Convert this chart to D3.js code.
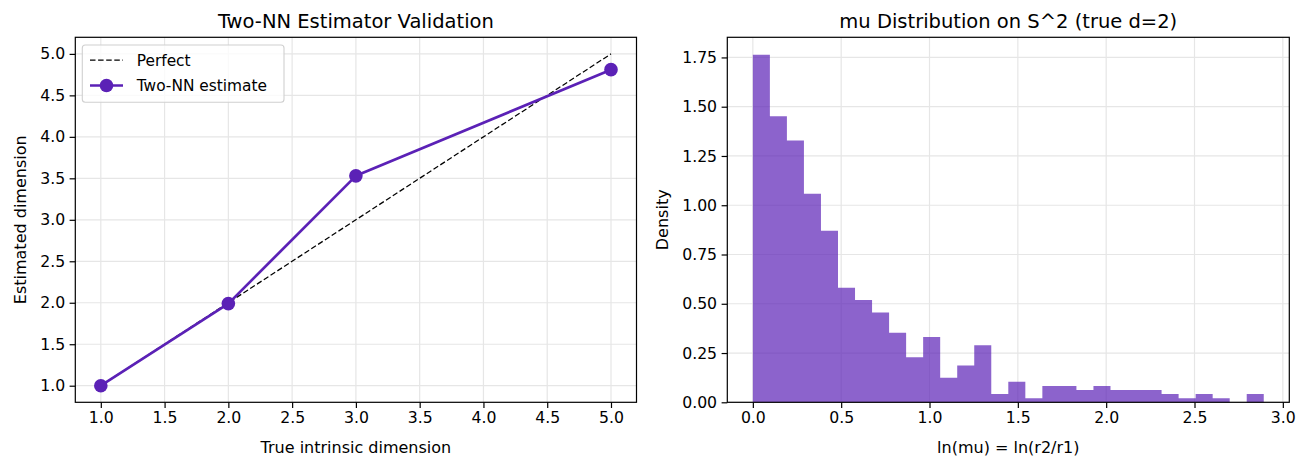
<!DOCTYPE html>
<html>
<head>
<meta charset="utf-8">
<script src="https://cdn.jsdelivr.net/npm/d3@7"></script>
<style>
    html, body { margin: 0; padding: 0; background: #ffffff; }
    #chart { width: 1306px; height: 468px; }
    text { font-family: "DejaVu Sans", sans-serif; fill: #000000; }
</style>
</head>
<body>
<div id="chart"></div>
<script>
// Two panels: Two-NN estimator check (left) and the ln(mu) histogram on S^2 (right).

// ── Left panel data ───────────────────────────────
var trueDims = [1, 2, 3, 5];
var estDims = [1.0, 1.99, 3.53, 4.81];
var perfectX = [1, 5];
var leftTicks = [1.0, 1.5, 2.0, 2.5, 3.0, 3.5, 4.0, 4.5, 5.0];

// ── Right panel data (30 bins, density) ───────────
var binLo = 0.0;
var binHi = 2.892;
var densities = [
    1.764, 1.452, 1.328, 1.058, 0.871, 0.581, 0.519, 0.456, 0.353, 0.228,
    0.332, 0.125, 0.187, 0.290, 0.042, 0.104, 0.021, 0.083, 0.083, 0.062,
    0.083, 0.062, 0.062, 0.062, 0.042, 0.021, 0.042, 0.021, 0.000, 0.042
];
var rightXTicks = [0.0, 0.5, 1.0, 1.5, 2.0, 2.5, 3.0];
var rightYTicks = [0.00, 0.25, 0.50, 0.75, 1.00, 1.25, 1.50, 1.75];

(function () {
    var W = 1306, H = 468;
    var PURPLE = '#5b21b6';
    var GRID = '#e6e6e6';
    var TICK_FS = 15.7;

    var svg = d3.select('#chart').append('svg')
        .attr('width', W).attr('height', H)
        .attr('viewBox', '0 0 ' + W + ' ' + H);

    var top = 37.3, bottom = 402.3;

    function drawGrid(g, x, y, xt, yt) {
        var x0 = x.range()[0], x1 = x.range()[1];
        var y0 = y.range()[1], y1 = y.range()[0];
        xt.forEach(function (t) {
            g.append('line')
                .attr('x1', x(t)).attr('x2', x(t)).attr('y1', y0).attr('y2', y1)
                .attr('stroke', GRID).attr('stroke-width', 1.2);
        });
        yt.forEach(function (t) {
            g.append('line')
                .attr('x1', x0).attr('x2', x1).attr('y1', y(t)).attr('y2', y(t))
                .attr('stroke', GRID).attr('stroke-width', 1.2);
        });
    }

    function drawAxes(g, x, y, xt, yt, xf, yf) {
        var x0 = x.range()[0], x1 = x.range()[1];
        var y0 = y.range()[1], y1 = y.range()[0];
        var ax = g.append('g').attr('transform', 'translate(0,' + y1 + ')')
            .call(d3.axisBottom(x).tickValues(xt).tickFormat(xf)
                .tickSize(5.7).tickPadding(4).tickSizeOuter(0));
        var ay = g.append('g').attr('transform', 'translate(' + x0 + ',0)')
            .call(d3.axisLeft(y).tickValues(yt).tickFormat(yf)
                .tickSize(5.7).tickPadding(4.5).tickSizeOuter(0));
        [ax, ay].forEach(function (a) {
            a.select('.domain').remove();
            a.selectAll('.tick line').attr('stroke', '#000').attr('stroke-width', 1.2);
            a.selectAll('.tick text')
                .attr('font-family', '"DejaVu Sans", sans-serif')
                .attr('font-size', TICK_FS).attr('fill', '#000');
        });
        // frame
        g.append('rect')
            .attr('x', x0).attr('y', y0)
            .attr('width', x1 - x0).attr('height', y1 - y0)
            .attr('fill', 'none').attr('stroke', '#000').attr('stroke-width', 1.2);
    }

    function title(txt, cx) {
        svg.append('text').attr('x', cx).attr('y', 27.5)
            .attr('text-anchor', 'middle').attr('font-size', 19.5).text(txt);
    }
    function xlabel(txt, cx) {
        svg.append('text').attr('x', cx).attr('y', 452.5)
            .attr('text-anchor', 'middle').attr('font-size', 16).text(txt);
    }
    function ylabel(txt, bx) {
        svg.append('text')
            .attr('transform', 'translate(' + bx + ',' + ((top + bottom) / 2) + ') rotate(-90)')
            .attr('text-anchor', 'middle').attr('font-size', 16).text(txt);
    }

    // ── Left panel ───────────────────────────────────
    var L = { x0: 75.3, x1: 636.5 };
    var gL = svg.append('g');
    var xL = d3.scaleLinear().domain([0.8, 5.2]).range([L.x0, L.x1]);
    var yL = d3.scaleLinear().domain([0.8, 5.2]).range([bottom, top]);

    drawGrid(gL, xL, yL, leftTicks, leftTicks);

    gL.append('path')
        .datum(perfectX)
        .attr('d', d3.line().x(function (d) { return xL(d); }).y(function (d) { return yL(d); }))
        .attr('fill', 'none').attr('stroke', '#000')
        .attr('stroke-width', 1.25).attr('stroke-dasharray', '5.5 2.6');

    var pts = trueDims.map(function (d, i) { return [d, estDims[i]]; });
    gL.append('path')
        .datum(pts)
        .attr('d', d3.line().x(function (d) { return xL(d[0]); }).y(function (d) { return yL(d[1]); }))
        .attr('fill', 'none').attr('stroke', PURPLE).attr('stroke-width', 2.7)
        .attr('stroke-linejoin', 'round');
    gL.selectAll('circle.pt').data(pts).enter().append('circle')
        .attr('class', 'pt')
        .attr('cx', function (d) { return xL(d[0]); })
        .attr('cy', function (d) { return yL(d[1]); })
        .attr('r', 6.8).attr('fill', PURPLE);

    drawAxes(gL, xL, yL, leftTicks, leftTicks, d3.format('.1f'), d3.format('.1f'));

    // legend
    var lg = svg.append('g');
    lg.append('rect')
        .attr('x', 82.3).attr('y', 45).attr('width', 201.7).attr('height', 57.3)
        .attr('rx', 3).attr('fill', '#fff').attr('fill-opacity', 0.8)
        .attr('stroke', '#d0d0d0').attr('stroke-width', 1.1);
    lg.append('line').attr('x1', 90).attr('x2', 123).attr('y1', 60).attr('y2', 60)
        .attr('stroke', '#000').attr('stroke-width', 1.25).attr('stroke-dasharray', '5.5 2.6');
    lg.append('line').attr('x1', 90).attr('x2', 123).attr('y1', 85.5).attr('y2', 85.5)
        .attr('stroke', PURPLE).attr('stroke-width', 2.7);
    lg.append('circle').attr('cx', 106.5).attr('cy', 85.5).attr('r', 6.8).attr('fill', PURPLE);
    lg.append('text').attr('x', 136.7).attr('y', 65.5).attr('font-size', 15.4).text('Perfect');
    lg.append('text').attr('x', 136.7).attr('y', 91).attr('font-size', 15.4).text('Two-NN estimate');

    title('Two-NN Estimator Validation', (L.x0 + L.x1) / 2);
    xlabel('True intrinsic dimension', (L.x0 + L.x1) / 2);
    ylabel('Estimated dimension', 26);

    // ── Right panel ──────────────────────────────────
    var R = { x0: 727.3, x1: 1289.3 };
    var gR = svg.append('g');
    var span = binHi - binLo;
    var xR = d3.scaleLinear()
        .domain([binLo - 0.05 * span, binHi + 0.05 * span]).range([R.x0, R.x1]);
    var yR = d3.scaleLinear()
        .domain([0, d3.max(densities) * 1.05]).range([bottom, top]);

    drawGrid(gR, xR, yR, rightXTicks, rightYTicks);

    // histogram as one outline path so neighbouring bars leave no seams
    var bw = span / densities.length;
    var hp = d3.path();
    hp.moveTo(xR(binLo), yR(0));
    densities.forEach(function (d, i) {
        hp.lineTo(xR(binLo + i * bw), yR(d));
        hp.lineTo(xR(binLo + (i + 1) * bw), yR(d));
    });
    hp.lineTo(xR(binHi), yR(0));
    hp.closePath();
    gR.append('path').attr('d', hp.toString())
        .attr('fill', PURPLE).attr('fill-opacity', 0.7).attr('stroke', 'none');

    drawAxes(gR, xR, yR, rightXTicks, rightYTicks, d3.format('.1f'), d3.format('.2f'));

    title('mu Distribution on S^2 (true d=2)', (R.x0 + R.x1) / 2);
    xlabel('ln(mu) = ln(r2/r1)', (R.x0 + R.x1) / 2);
    ylabel('Density', 667.7);
})();
</script>
</body>
</html>
